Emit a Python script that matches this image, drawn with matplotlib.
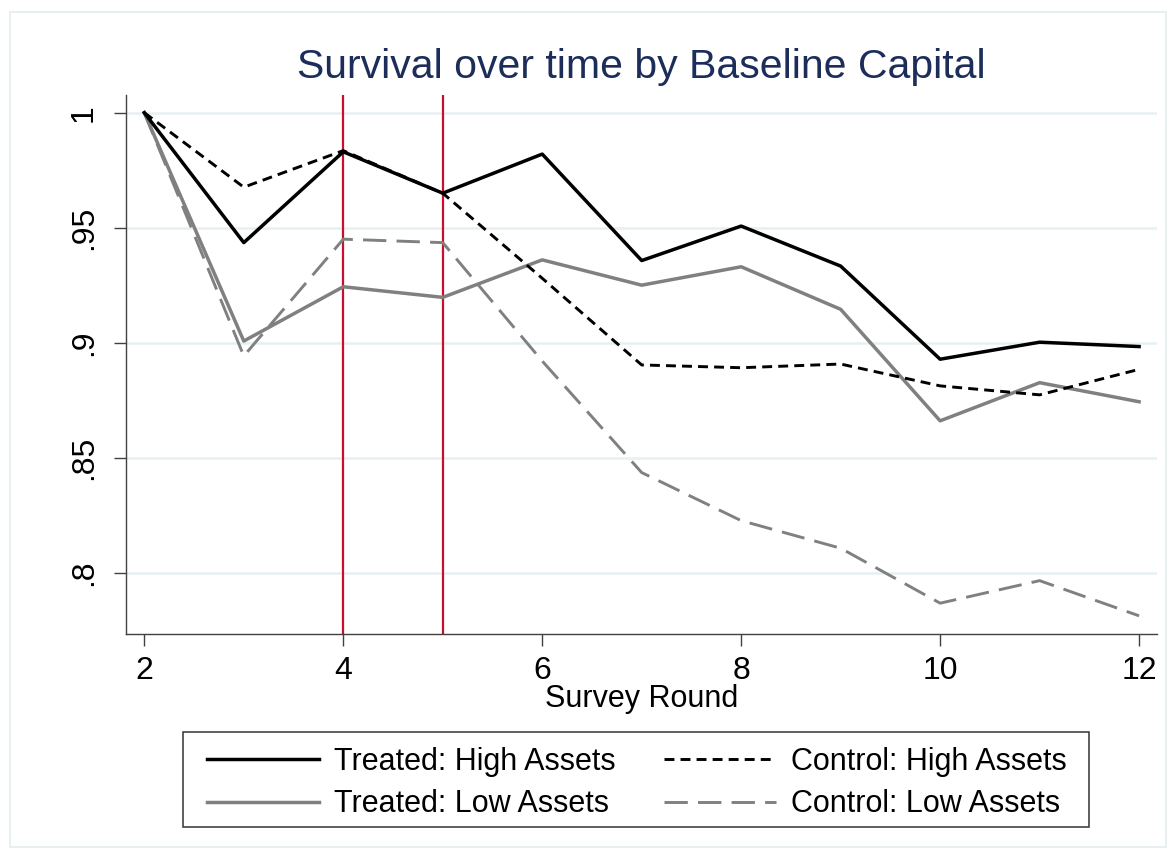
import matplotlib
matplotlib.use("Agg")
import matplotlib.pyplot as plt
from matplotlib.patches import Rectangle

plt.rcParams['font.family'] = ['Liberation Sans', 'DejaVu Sans']

# survey rounds and survival shares
rounds = [2, 3, 4, 5, 6, 7, 8, 9, 10, 11, 12]
treated_high = [1.0, 0.9435, 0.983, 0.965, 0.982, 0.9357, 0.9507, 0.9333, 0.8928, 0.9002, 0.8983]
control_high = [1.0, 0.9676, 0.9835, 0.965, 0.928, 0.8903, 0.8891, 0.8907, 0.8812, 0.8773, 0.8884]
treated_low = [1.0, 0.9007, 0.9243, 0.9197, 0.936, 0.925, 0.933, 0.9145, 0.866, 0.8826, 0.8743]
control_low = [1.0, 0.8942, 0.945, 0.9435, 0.892, 0.8435, 0.8226, 0.8106, 0.7867, 0.7965, 0.7812]
event_rounds = [4, 5]
y_ticks = [0.8, 0.85, 0.9, 0.95, 1.0]
y_labels = ['.8', '.85', '.9', '.95', '1']
x_ticks = [2, 4, 6, 8, 10, 12]

W, H = 1176, 859
fig = plt.figure(figsize=(W / 100, H / 100), dpi=100)
ax = fig.add_axes([126 / W, 1 - 634 / H, (1157 - 126) / W, (634 - 95) / H])

# light outer frame like the stata graph region
fig.patches.append(Rectangle((10 / W, 12 / H), (1166 - 10) / W, (847 - 12) / H,
                             transform=fig.transFigure, fill=False,
                             edgecolor='#e4ecef', linewidth=1.2))

for yv in y_ticks:
    ax.axhline(yv, color='#e8eff2', linewidth=1.8, zorder=0)

for xv in event_rounds:
    ax.axvline(xv, color='#c8102e', linewidth=1.6, zorder=1)

ax.plot(rounds, treated_high, color='black', linewidth=2.5, label='Treated: High Assets', zorder=3)
ax.plot(rounds, control_high, color='black', linewidth=2.1, linestyle=(0, (3.4, 2.1)),
        label='Control: High Assets', zorder=3)
ax.plot(rounds, treated_low, color='#808080', linewidth=2.5, label='Treated: Low Assets', zorder=2)
ax.plot(rounds, control_low, color='#808080', linewidth=2.1, linestyle=(0, (8.0, 3.5)),
        label='Control: Low Assets', zorder=2)

ax.set_xlim(1.816, 12.18)
ax.set_ylim(0.7733, 1.0077)
ax.set_xticks(x_ticks)
ax.set_yticks(y_ticks)
ax.set_yticklabels(y_labels, rotation=90, va='center')
ax.tick_params(axis='both', direction='out', length=8.6, width=1.0, color='#404040', labelsize=23)
ax.tick_params(axis='y', pad=11)
ax.tick_params(axis='x', pad=7)

for side in ['top', 'right']:
    ax.spines[side].set_visible(False)
for side in ['left', 'bottom']:
    ax.spines[side].set_color('#404040')
    ax.spines[side].set_linewidth(1.0)

ax.set_xlabel('Survey Round', fontsize=22, labelpad=-1)
ax.set_title('Survival over time by Baseline Capital', fontsize=29.5, color='#1c2d5a', pad=12)

# legend frame drawn by hand so its box matches the reference
fig.patches.append(Rectangle((183 / W, 1 - 827 / H), (1089 - 183) / W, (827 - 732) / H,
                             transform=fig.transFigure, fill=False,
                             edgecolor='#333333', linewidth=1.1, zorder=5))
h, l = ax.get_legend_handles_labels()
order = [0, 2, 1, 3]
leg = fig.legend([h[i] for i in order], [l[i] for i in order], ncol=2, loc='center',
                 bbox_to_anchor=(637 / W, 1 - 783 / H), fontsize=22, frameon=False,
                 handlelength=3.65, handletextpad=0.5, columnspacing=1.6,
                 labelspacing=0.42, borderpad=0.3)

fig.savefig('out.png', dpi=100, facecolor='white')
